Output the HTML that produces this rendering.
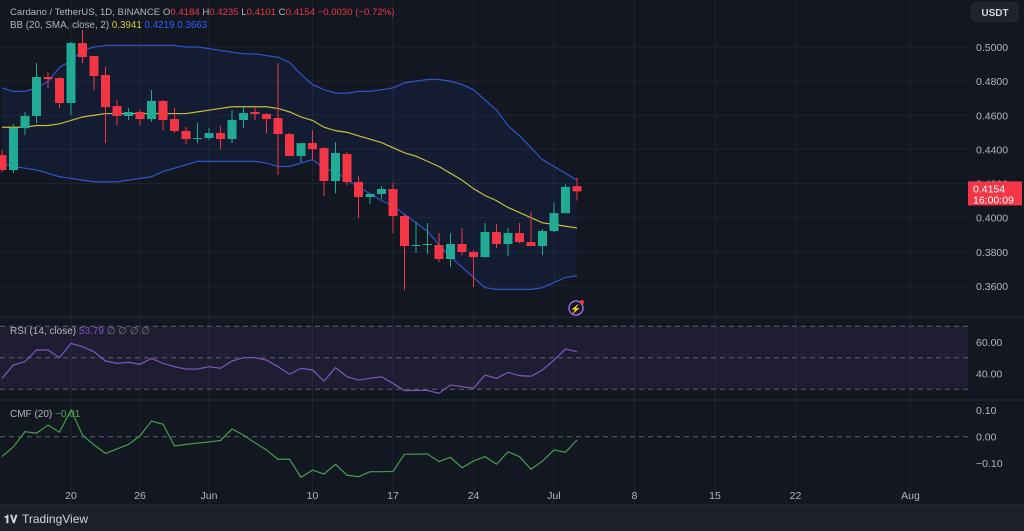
<!DOCTYPE html>
<html><head><meta charset="utf-8"><style>
html,body{margin:0;padding:0;background:#131722;}
svg{display:block;font-family:"Liberation Sans",sans-serif;}
</style></head><body>
<svg id="c" width="1024" height="531" xmlns="http://www.w3.org/2000/svg">
<rect x="0" y="0" width="1024" height="531" fill="#131722"/>
<rect x="0" y="505" width="1024" height="26" fill="#1c202b"/>
<g id="grid"></g>
<g id="bb"></g>
<g id="candles"></g>
<g id="rsi"></g>
<g id="cmf"></g>
<g id="axes"></g>
<line x1="0" y1="317" x2="1024" y2="317" stroke="#2a2e39"/>
<line x1="0" y1="400" x2="1024" y2="400" stroke="#2a2e39"/>
<line x1="0" y1="505" x2="1024" y2="505" stroke="#2a2e39"/>
<text x="10" y="15" font-size="9.6" fill="#b2b5be">Cardano / TetherUS, 1D, BINANCE  <tspan fill="#b2b5be">O</tspan><tspan fill="#f23645">0.4184</tspan>  <tspan fill="#b2b5be">H</tspan><tspan fill="#f23645">0.4235</tspan>  <tspan fill="#b2b5be">L</tspan><tspan fill="#f23645">0.4101</tspan>  <tspan fill="#b2b5be">C</tspan><tspan fill="#f23645">0.4154</tspan> <tspan fill="#f23645">−0.0030 (−0.72%)</tspan></text>
<text x="10" y="28" font-size="9.8" fill="#b2b5be">BB (20, SMA, close, 2)  <tspan fill="#d4c83a">0.3941</tspan>  <tspan fill="#2962ff">0.4219</tspan>  <tspan fill="#2962ff">0.3663</tspan></text>
<text x="10" y="334" font-size="10" fill="#b2b5be">RSI (14, close)  <tspan fill="#7e57c2">53.79</tspan>  <tspan fill="#787b86">∅ ∅ ∅ ∅</tspan></text>
<text x="10" y="417" font-size="10" fill="#b2b5be">CMF (20)  <tspan fill="#4caf50">−0.01</tspan></text>
<rect x="972" y="3" width="46" height="18" rx="4" fill="#1e222d" stroke="#2a2e39"/>
<text x="995" y="16" font-size="10" fill="#d1d4dc" text-anchor="middle" font-weight="bold">USDT</text>
<g><text x="4" y="523" font-size="11" font-weight="bold" fill="#d1d4dc">𝟏𝐕</text><text x="22" y="523" font-size="12" fill="#d1d4dc">TradingView</text></g>
<g><circle cx="576" cy="308" r="7" fill="none" stroke="#9c6ade" stroke-width="1.5"/><text x="576" y="312" font-size="9" fill="#9c6ade" text-anchor="middle">⚡</text><circle cx="582" cy="302" r="2" fill="#f23645"/></g>
</svg>
<script>
const dayIdx=[-6,-5,-4,-3,-2,-1,0,1,2,3,4,5,6,7,8,9,10,11,12,13,14,15,16,17,18,19,20,21,22,23,24,25,26,27,28,29,30,31,32,33,34,35,36,37,38,39,40,41,42,43,44];
const opens=[.4367,.4279,.4525,.4596,.4824,.4818,.4672,.5023,.4947,.4836,.4654,.4596,.4619,.4578,.4684,.4578,.4508,.4461,.4467,.4496,.4461,.4572,.4619,.4607,.4584,.4490,.4361,.4437,.4408,.4215,.4373,.4209,.4121,.4139,.4168,.4010,.3834,.3840,.3840,.3758,.3846,.3799,.3769,.3916,.3846,.3910,.3857,.3834,.3922,.4027,.4184];
const highs=[.4396,.4549,.4619,.4906,.4853,.4824,.5029,.5100,.4947,.4883,.4689,.4643,.4631,.4748,.4689,.4643,.4531,.4555,.4525,.4537,.4631,.4648,.4648,.4613,.4906,.4496,.4396,.4514,.4414,.4443,.4385,.4244,.4139,.4185,.4203,.4021,.3975,.3969,.3910,.3910,.3939,.3810,.3969,.3963,.3939,.3969,.4033,.3934,.4086,.4197,.4235];
const lows=[.4268,.4262,.4484,.4555,.4760,.4643,.4602,.4906,.4748,.4437,.4543,.4572,.4543,.4561,.4514,.4496,.4432,.4437,.4455,.4402,.4437,.4525,.4572,.4496,.4250,.4361,.4326,.4338,.4127,.4144,.4191,.3998,.4080,.4109,.3910,.3576,.3793,.3787,.3740,.3711,.3781,.3594,.3769,.3822,.3775,.3851,.3834,.3781,.3916,.4027,.4101];
const closes=[.4279,.4525,.4596,.4824,.4812,.4672,.5023,.4941,.4830,.4648,.4596,.4619,.4578,.4684,.4572,.4508,.4461,.4467,.4496,.4461,.4572,.4613,.4607,.4578,.4490,.4361,.4437,.4402,.4215,.4379,.4209,.4121,.4139,.4168,.4010,.3834,.3840,.3846,.3758,.3846,.3799,.3769,.3916,.3846,.3910,.3857,.3834,.3922,.4027,.4180,.4154];
const bbUpper=[.476,.474,.474,.476,.480,.488,.492,.498,.500,.501,.501,.501,.501,.501,.501,.501,.500,.500,.499,.498,.497,.496,.496,.495,.494,.491,.484,.478,.475,.473,.473,.474,.474,.475,.476,.479,.480,.481,.481,.480,.478,.475,.469,.463,.454,.448,.441,.434,.430,.426,.422];
const bbMid=[.453,.453,.453,.454,.454,.455,.457,.459,.460,.461,.461,.461,.461,.461,.461,.461,.461,.462,.463,.464,.465,.465,.465,.465,.464,.462,.459,.457,.453,.451,.450,.448,.446,.444,.441,.438,.436,.433,.430,.426,.422,.417,.413,.410,.406,.403,.400,.397,.396,.395,.394];
const bbLower=[.432,.430,.429,.428,.426,.424,.423,.422,.421,.421,.421,.422,.423,.424,.427,.429,.431,.433,.433,.433,.433,.433,.433,.432,.430,.430,.432,.434,.429,.427,.422,.418,.414,.410,.407,.402,.397,.392,.384,.377,.371,.365,.359,.358,.358,.358,.358,.359,.362,.365,.366];
const rsiVals=[36.9,45.4,47.5,54.9,54.9,50.0,59.1,57.0,53.8,47.9,46.4,47.1,45.8,49.6,46.4,44.3,42.8,42.8,44.3,43.3,47.9,50.0,50.0,48.5,44.3,39.5,43.3,42.2,35.2,43.7,37.9,35.8,36.9,37.9,33.7,29.1,29.2,29.2,27.4,32.7,31.6,30.6,39.0,36.9,40.7,38.6,38.2,42.2,48.5,55.5,53.8];
const cmfVals=[-.075,-.038,.019,.013,.044,.017,.101,.006,-.031,-.063,-.046,-.029,.003,.059,.047,-.035,-.029,-.024,-.020,-.014,.029,.006,-.023,-.050,-.085,-.085,-.153,-.126,-.141,-.104,-.145,-.151,-.132,-.132,-.131,-.066,-.066,-.065,-.094,-.078,-.117,-.092,-.075,-.104,-.057,-.075,-.123,-.092,-.050,-.059,-.012];
const priceTicks=[0.50,0.48,0.46,0.44,0.42,0.40,0.38,0.36];
const rsiTicks=[60,40];
const cmfTicks=[0.10,0.00,-0.10];
const dateLabels=["20","26","Jun","10","17","24","Jul","8","15","22","Aug"];
const dateDays=[0,6,12,21,28,35,42,49,56,63,73];

const NS="http://www.w3.org/2000/svg";
const X=d=>71+d*11.5;
const Y=p=>47+(0.5-p)*1707;
const RY=v=>357.7-(v-50)*1.575;
const CY=v=>436.7-v*265;
const PW=968;
function mk(tag,attrs,parent){const e=document.createElementNS(NS,tag);for(const k in attrs)e.setAttribute(k,attrs[k]);parent.appendChild(e);return e;}
const grid=document.getElementById('grid'),axes=document.getElementById('axes');
dateDays.forEach((d,i)=>{
  const l=mk('line',{x1:X(d),x2:X(d),y1:0,y2:505,stroke:'#1f2330'},grid);
  
  
  const t=mk('text',{x:X(d),y:499,'font-size':10.5,fill:'#b2b5be','text-anchor':'middle'},axes);
  t.textContent=dateLabels[i];
  
  
});
priceTicks.forEach(p=>{
  const l=mk('line',{x1:0,x2:PW,y1:Y(p),y2:Y(p),stroke:'#1f2330'},grid);
  
  
  const t=mk('text',{x:976,y:Y(p)+4,'font-size':10.5,fill:'#b2b5be'},axes);
  t.textContent=p.toFixed(4);
  
  
});
const rg=document.getElementById('rsi');
const band=mk('rect',{x:0,y:RY(70),width:PW,height:RY(30)-RY(70),fill:'#7e57c2','fill-opacity':0.1},rg);


[70,50,30].forEach(v=>{
  const l=mk('line',{x1:0,x2:PW,y1:RY(v),y2:RY(v),stroke:'#5d606b','stroke-dasharray':'5,4'},rg);
  
  
});
rsiTicks.forEach(v=>{
  const t=mk('text',{x:976,y:RY(v)+4,'font-size':10.5,fill:'#b2b5be'},axes);
  t.textContent=v.toFixed(2);
  
  
});
const rl=mk('polyline',{points:rsiVals.map((v,i)=>X(dayIdx[i])+','+RY(v)).join(' '),fill:'none',stroke:'#7e57c2','stroke-width':1.2},rg);


const cg=document.getElementById('cmf');
const zl=mk('line',{x1:0,x2:PW,y1:CY(0),y2:CY(0),stroke:'#5d606b','stroke-dasharray':'5,4'},cg);


cmfTicks.forEach(v=>{
  const t=mk('text',{x:976,y:CY(v)+4,'font-size':10.5,fill:'#b2b5be'},axes);
  t.textContent=(v<0?'−':'')+Math.abs(v).toFixed(2);
  
  
});
const cl=mk('polyline',{points:cmfVals.map((v,i)=>X(dayIdx[i])+','+CY(v)).join(' '),fill:'none',stroke:'#43a047','stroke-width':1.2},cg);


const bg=document.getElementById('bb');
const up=bbUpper.map((v,i)=>X(dayIdx[i])+','+Y(v));
const lo=bbLower.map((v,i)=>X(dayIdx[i])+','+Y(v)).reverse();
const fillp=mk('polygon',{points:up.concat(lo).join(' '),fill:'#2962ff','fill-opacity':0.07},bg);


[[bbUpper,'#2f55c8','bb-upper'],[bbMid,'#c8bd3c','bb-basis'],[bbLower,'#2f55c8','bb-lower']].forEach(([arr,col,nm])=>{
  const p=mk('polyline',{points:arr.map((v,i)=>X(dayIdx[i])+','+Y(v)).join(' '),fill:'none',stroke:col,'stroke-width':1.2},bg);
  
  
});
const cgp=document.getElementById('candles');
dayIdx.forEach((d,i)=>{
  const o=opens[i],c=closes[i],up=c>=o,col=up?'#22ab94':'#f23645',x=X(d);
  const g=mk('g',{},cgp);
  
  
  mk('line',{x1:x,x2:x,y1:Y(highs[i]),y2:Y(lows[i]),stroke:col,'stroke-width':1},g);
  const t=Y(Math.max(o,c)),b=Y(Math.min(o,c));
  mk('rect',{x:x-4.5,y:t,width:9,height:Math.max(1,b-t),fill:col},g);
});
const lp=closes[closes.length-1];
const lab=mk('rect',{x:968,y:Y(lp)-10,width:54,height:24,fill:'#f23645'},axes);


const lt=mk('text',{x:973,y:Y(lp)+1,'font-size':10.5,fill:'#ffffff'},axes);
lt.textContent=lp.toFixed(4);


const lt2=mk('text',{x:973,y:Y(lp)+12,'font-size':10.5,fill:'#ffffff'},axes);
lt2.textContent='16:00:09';


</script>
</body></html>
